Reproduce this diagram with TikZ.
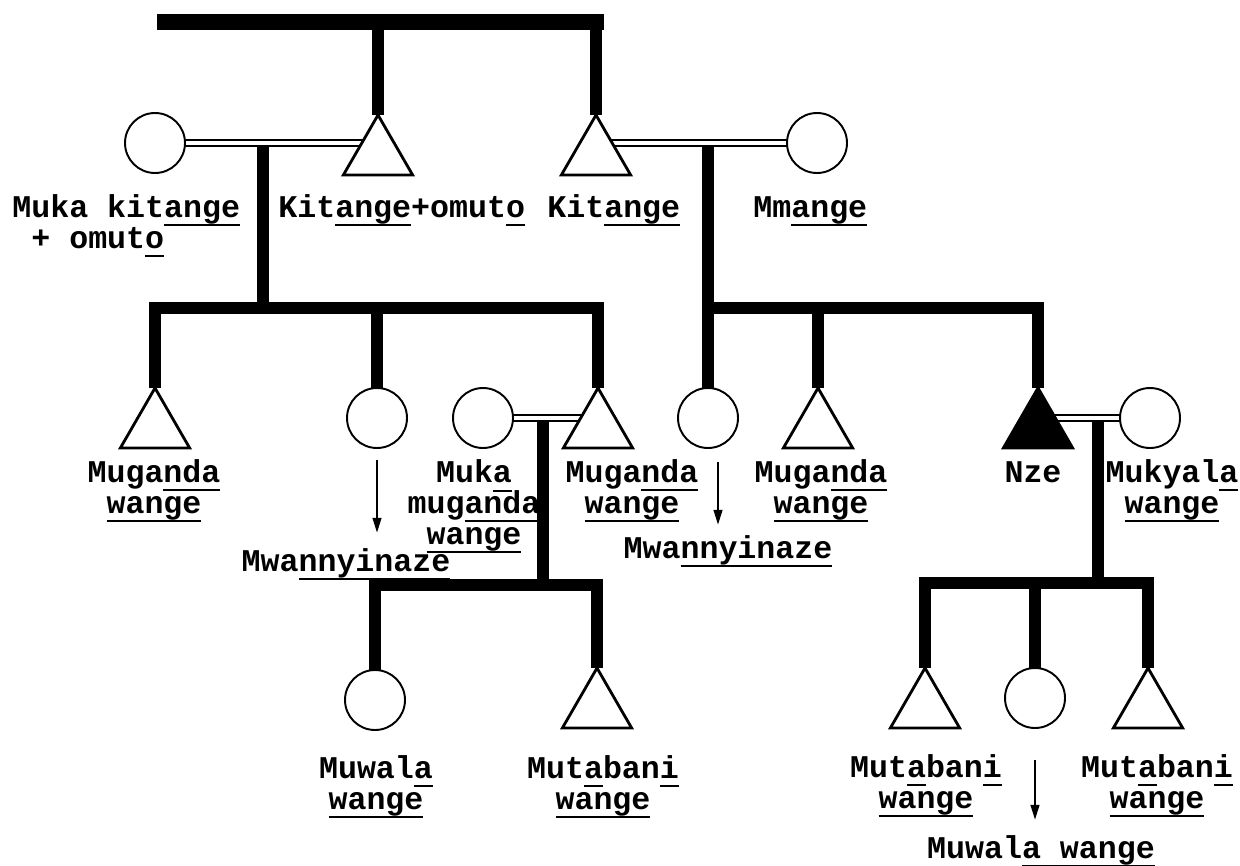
\documentclass[tikz,border=0pt]{standalone}
\usepackage{fontspec}
\setmonofont{Liberation Mono}
\usetikzlibrary{shapes.geometric,arrows.meta,backgrounds}
\setlength\lineskiplimit{-30pt}
% underline at a fixed depth below the baseline
\newcommand\ul[1]{\setbox0=\hbox{#1}\rlap{\rule[-5.2pt]{\wd0}{1.1pt}}\box0}
\begin{document}
\begin{tikzpicture}[x=0.02cm,y=-0.02cm,
  lbl/.style={font=\ttfamily\bfseries\fontsize{18pt}{17.5pt}\selectfont, inner sep=0pt, anchor=base, align=center},
  fem/.style={circle, draw, line width=1.1pt, minimum size=1.2cm, inner sep=0pt, outer sep=0pt, fill=white},
  mal/.style={regular polygon, regular polygon sides=3, draw, line width=1.6pt, minimum size=1.6cm, inner sep=0pt, outer sep=0pt, fill=white},
  ego/.style={mal, fill=black},
  descent/.style={line width=6.8pt, line join=miter},
  topbar/.style={line width=9.6pt},
  marriage/.style={double, double distance=2.4pt, line width=1.1pt},
  toarrow/.style={-{Triangle[length=8.5pt,width=5pt]}, line width=1.1pt}
]
\useasboundingbox (0,0) rectangle (1240,865);

% --- first generation: father, his brother and their wives
\node[fem] (cA) at (155,143) {};
\node[mal] (tA) at (378,155) {};
\node[mal] (tB) at (596,155) {};
\node[fem] (cB) at (817,143) {};

% --- second generation
\node[mal] (tC) at (155,428) {};
\node[fem] (cC) at (377,418) {};
\node[fem] (cD) at (483,418) {};
\node[mal] (tD) at (598,428) {};
\node[fem] (cE) at (708,418) {};
\node[mal] (tE) at (818,428) {};
\node[ego] (tF) at (1038,428) {};
\node[fem] (cF) at (1150,418) {};

% --- third generation
\node[fem] (cG) at (375,700) {};
\node[mal] (tG) at (597,708) {};
\node[mal] (tH) at (925,708) {};
\node[fem] (cH) at (1035,698) {};
\node[mal] (tI) at (1148,708) {};

% --- junction points
\coordinate (top)  at (157,22);
\coordinate (topR) at (604,22);
\coordinate (mA) at (263,143);
\coordinate (mB) at (708,143);
\coordinate (mD) at (543,418);
\coordinate (mF) at (1098,418);
\coordinate (b2) at (0,308);
\coordinate (b3) at (0,308);
\coordinate (b4) at (0,585);
\coordinate (b5) at (0,583);

% --- labels (multi-line labels sit on the baseline of their last line)
\node[lbl, anchor=base west, align=left] (lA) at (12,248) {Muka kit\ul{ange}\\\ + omut\ul{o}};
\node[lbl, anchor=base west] (lB) at (278,217) {Kit\ul{ange}+omut\ul{o}};
\node[lbl, anchor=base west] (lC) at (547,217) {Kit\ul{ange}};
\node[lbl, anchor=base west] (lD) at (753,217) {Mm\ul{ange}};

\node[lbl] (lE) at (154,513) {Muga\ul{nda}\\\ul{wange}};
\node[lbl] (lF) at (474,544) {Muk\ul{a}\\mug\ul{anda}\\\ul{wange}};
\node[lbl] (lG) at (632,513) {Muga\ul{nda}\\\ul{wange}};
\node[lbl] (lH) at (821,513) {Muga\ul{nda}\\\ul{wange}};
\node[lbl] (lI) at (1033,482) {Nze};
\node[lbl] (lJ) at (1172,513) {Mukyal\ul{a}\\\ul{wange}};
\node[lbl] (mw1) at (346,571) {Mwa\ul{nnyinaze}};
\node[lbl] (mw2) at (728,558) {Mwa\ul{nnyinaze}};

\node[lbl] (lK) at (376,809) {Muwal\ul{a}\\\ul{wange}};
\node[lbl] (lL) at (603,809) {Mut\ul{a}ban\ul{i}\\\ul{wange}};
\node[lbl] (lM) at (926,808) {Mut\ul{a}ban\ul{i}\\\ul{wange}};
\node[lbl] (lN) at (1157,808) {Mut\ul{a}ban\ul{i}\\\ul{wange}};
\node[lbl] (lO) at (1041,858) {Muwal\ul{a wange}};

% --- connectors
\begin{scope}[on background layer]
  % sibling line of the first generation
  \draw[topbar] (top) -- (topR);
  \draw[descent] (top -| tA.north) -- (tA.north);
  \draw[descent] (top -| tB.north) -- (tB.north);
  % children of the father's brother
  \draw[descent] (mA) -- (mA |- b2);
  \draw[descent] (tC.north) -- (tC.north |- b2) -- (tD.north |- b2) -- (tD.north);
  \draw[descent] (cC.north) -- (cC.north |- b2);
  % children of the father
  \draw[descent] (mB) -- (cE.north);
  \draw[descent] (mB |- b3) -- (tF.north |- b3) -- (tF.north);
  \draw[descent] (tE.north) -- (tE.north |- b3);
  % children of the cousin
  \draw[descent] (mD) -- (mD |- b4);
  \draw[descent] (cG.north) -- (cG.north |- b4) -- (tG.north |- b4) -- (tG.north);
  % children of ego
  \draw[descent] (mF) -- (mF |- b5);
  \draw[descent] (tH.north) -- (tH.north |- b5) -- (tI.north |- b5) -- (tI.north);
  \draw[descent] (cH.north) -- (cH.north |- b5);
  % marriages
  \draw[marriage] (cA) -- (cA -| tA);
  \draw[marriage] (cB) -- (cB -| tB);
  \draw[marriage] (cD) -- (cD -| tD);
  \draw[marriage] (cF) -- (cF -| tF);
\end{scope}

% --- changes of term
\draw[toarrow, shorten <=0.24cm, shorten >=0.3cm] (cC.south) -- (cC.south |- mw1.north);
\draw[toarrow, shorten <=0.28cm, shorten >=0.2cm] ([xshift=0.2cm]cE.south) -- ([xshift=0.2cm]cE.south |- mw2.north);
\draw[toarrow, shorten <=0.64cm, shorten >=0.3cm] (cH.south) -- (cH.south |- lO.north);
\end{tikzpicture}
\end{document}
